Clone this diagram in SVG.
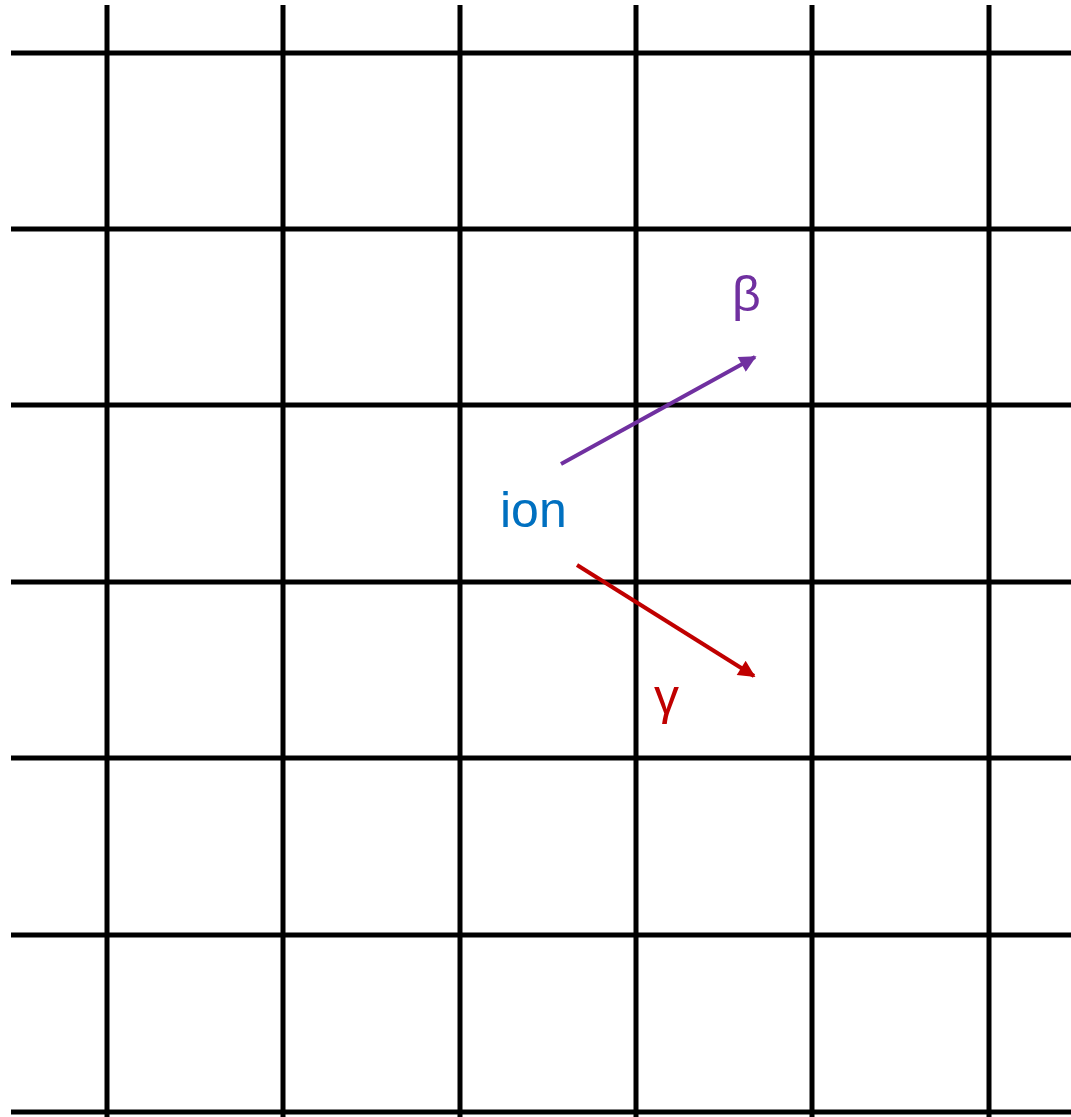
<svg xmlns="http://www.w3.org/2000/svg" width="1071" height="1117" viewBox="0 0 1071 1117">
<style>
.g{stroke:#000;stroke-width:5;fill:none}
.t{font-family:"Liberation Sans",Arial,sans-serif;font-size:50px}
</style>
<defs>
<marker id="mb" viewBox="0 0 10 10" refX="9" refY="5" markerWidth="5" markerHeight="4.2" orient="auto" markerUnits="strokeWidth"><path d="M0,0 L10,5 L0,10 z" fill="#7030A0"/></marker>
<marker id="mr" viewBox="0 0 10 10" refX="9" refY="5" markerWidth="5" markerHeight="4.2" orient="auto" markerUnits="strokeWidth"><path d="M0,0 L10,5 L0,10 z" fill="#C00000"/></marker>
</defs>
<rect width="1071" height="1117" fill="#fff"/>
<g id="grid" class="g">
<line x1="107" y1="5" x2="107" y2="1117"/>
<line x1="283" y1="5" x2="283" y2="1117"/>
<line x1="460" y1="5" x2="460" y2="1117"/>
<line x1="636" y1="5" x2="636" y2="1117"/>
<line x1="812" y1="5" x2="812" y2="1117"/>
<line x1="989" y1="5" x2="989" y2="1117"/>
<line x1="11" y1="53" x2="1071" y2="53"/>
<line x1="11" y1="229" x2="1071" y2="229"/>
<line x1="11" y1="405" x2="1071" y2="405"/>
<line x1="11" y1="582" x2="1071" y2="582"/>
<line x1="11" y1="758" x2="1071" y2="758"/>
<line x1="11" y1="935" x2="1071" y2="935"/>
<line x1="11" y1="1112" x2="1071" y2="1112"/>
</g>
<g id="ion"><text class="t" x="500" y="527" fill="#0070C0">ion</text></g>
<g id="beta"><text class="t" x="732" y="311" fill="#7030A0" font-size="52">β</text></g>
<g id="gamma"><text class="t" x="654" y="714" fill="#C00000">γ</text></g>
<g id="connectors">
<line x1="561" y1="464" x2="755" y2="357" stroke="#7030A0" stroke-width="4" marker-end="url(#mb)"/>
<line x1="577" y1="565" x2="754" y2="676" stroke="#C00000" stroke-width="4" marker-end="url(#mr)"/>
</g>
</svg>
